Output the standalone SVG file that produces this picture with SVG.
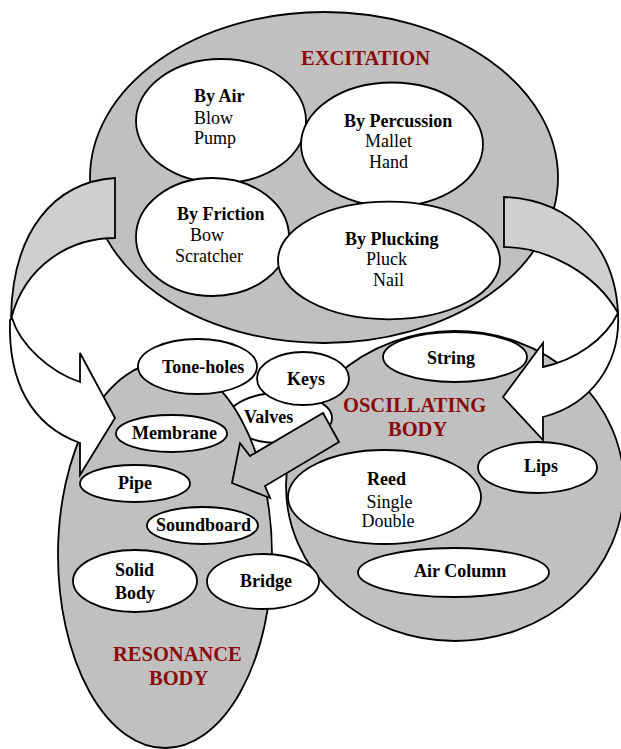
<svg xmlns="http://www.w3.org/2000/svg" width="621" height="749" viewBox="0 0 621 749">
  <style>
    .big { fill: #c0c0c0; stroke: #000; stroke-width: 1.8; }
    .node { fill: #fff; stroke: #000; stroke-width: 1.8; }
    .band { fill: #cfcfcf; stroke: #000; stroke-width: 1.8; stroke-linejoin: miter; }
    .face { fill: #fff; stroke: #000; stroke-width: 1.8; stroke-linejoin: miter; }
    .block { fill: #c0c0c0; stroke: #000; stroke-width: 1.8; stroke-linejoin: miter; }
    text { font-family: "Liberation Serif", "Times New Roman", serif; font-size: 18px; fill: #000; }
    .b { font-weight: bold; }
    .title { font-weight: bold; font-size: 20.5px; fill: #8b0a0a; }
  </style>

  <rect width="621" height="749" fill="#fff"/>

  <!-- Excitation container -->
  <g id="excitation">
    <ellipse class="big" cx="324" cy="177.5" rx="234" ry="165.5"/>
    <text class="title" x="301" y="64.5">EXCITATION</text>
  </g>
  <g id="by-air">
    <ellipse class="node" cx="221" cy="121" rx="85" ry="62"/>
    <text class="b" x="194" y="102">By Air</text>
    <text x="194" y="124">Blow</text>
    <text x="194" y="144">Pump</text>
  </g>
  <g id="by-percussion">
    <ellipse class="node" cx="392" cy="144.5" rx="91" ry="62"/>
    <text class="b" x="344" y="127">By Percussion</text>
    <text x="365" y="147">Mallet</text>
    <text x="369" y="168">Hand</text>
  </g>
  <g id="by-friction">
    <ellipse class="node" cx="212.5" cy="237" rx="76.5" ry="59"/>
    <text class="b" x="177" y="220">By Friction</text>
    <text x="190" y="241">Bow</text>
    <text x="175" y="262">Scratcher</text>
  </g>
  <g id="by-plucking">
    <ellipse class="node" cx="389" cy="260.5" rx="111" ry="58.8"/>
    <text class="b" x="345" y="244.5">By Plucking</text>
    <text x="366" y="265">Pluck</text>
    <text x="373" y="286">Nail</text>
  </g>

  <!-- Oscillating body container -->
  <g id="oscillating-body">
    <ellipse class="big" cx="455" cy="486" rx="169" ry="155"/>
    <text class="title" x="343" y="411.5">OSCILLATING</text>
    <text class="title" x="388" y="435.5">BODY</text>
  </g>
  <g id="valves">
    <ellipse class="node" cx="280" cy="418" rx="52" ry="25"/>
    <text class="b" x="244" y="422.5">Valves</text>
  </g>

  <!-- Resonance body container -->
  <g id="resonance-body">
    <ellipse class="big" cx="165" cy="555" rx="107" ry="193"/>
    <text class="title" x="113" y="660.5">RESONANCE</text>
    <text class="title" x="149" y="685">BODY</text>
  </g>
  <g id="tone-holes">
    <ellipse class="node" cx="197.5" cy="366.5" rx="59.5" ry="27.5"/>
    <text class="b" x="162" y="372.5">Tone-holes</text>
  </g>
  <g id="keys">
    <ellipse class="node" cx="303" cy="378.5" rx="46" ry="26.5"/>
    <text class="b" x="287" y="385">Keys</text>
  </g>
  <g id="membrane">
    <ellipse class="node" cx="171.5" cy="433.5" rx="55.5" ry="18.5"/>
    <text class="b" x="132" y="439">Membrane</text>
  </g>
  <g id="pipe">
    <ellipse class="node" cx="135" cy="483.5" rx="55" ry="18.5"/>
    <text class="b" x="118" y="488.5">Pipe</text>
  </g>
  <g id="soundboard">
    <ellipse class="node" cx="202.5" cy="525.5" rx="55.5" ry="18.5"/>
    <text class="b" x="156" y="531">Soundboard</text>
  </g>
  <g id="solid-body">
    <ellipse class="node" cx="135" cy="581" rx="62" ry="31"/>
    <text class="b" x="115" y="576">Solid</text>
    <text class="b" x="115" y="598.5">Body</text>
  </g>
  <g id="bridge">
    <ellipse class="node" cx="263" cy="581.5" rx="56" ry="27.5"/>
    <text class="b" x="240" y="587">Bridge</text>
  </g>
  <g id="string">
    <ellipse class="node" cx="455" cy="357" rx="72" ry="25"/>
    <text class="b" x="427" y="364">String</text>
  </g>
  <g id="lips">
    <ellipse class="node" cx="537.5" cy="467.5" rx="59.5" ry="25.5"/>
    <text class="b" x="524" y="471.5">Lips</text>
  </g>
  <g id="reed">
    <ellipse class="node" cx="384.5" cy="497" rx="96.5" ry="47"/>
    <text class="b" x="367" y="485">Reed</text>
    <text x="366.5" y="508">Single</text>
    <text x="361.5" y="526.5">Double</text>
  </g>
  <g id="air-column">
    <ellipse class="node" cx="453.5" cy="572.5" rx="95.5" ry="24.5"/>
    <text class="b" x="414" y="576.5">Air Column</text>
  </g>

  <!-- Connectors: two curved arrows and one block arrow -->
  <g id="connectors">
    <!-- excitation -> resonance body -->
    <path class="face" d="M10,320 C8,380 30,425 80,443 L80,475 L115,418 L80,353 L80,382 C50,372 20,345 12,318 Z"/>
    <path class="band" d="M115,178 L115,238 C70,238 25,265 11,319 C12,230 55,182 115,178 Z"/>
    <!-- excitation -> oscillating body -->
    <path class="face" d="M618,313 C621,365 590,405 543,417 L543,440 L503,397 L543,343 L543,367 C575,360 605,340 618,313 Z"/>
    <path class="band" d="M504,197 L504,247 C545,247 595,272 618,313 C615,250 575,200 504,197 Z"/>
    <!-- oscillating body -> resonance body -->
    <path class="block" d="M323,413 L339,442 L265,486 L270,498 L232,483 L240,443 L250,456 Z"/>
  </g>
</svg>
